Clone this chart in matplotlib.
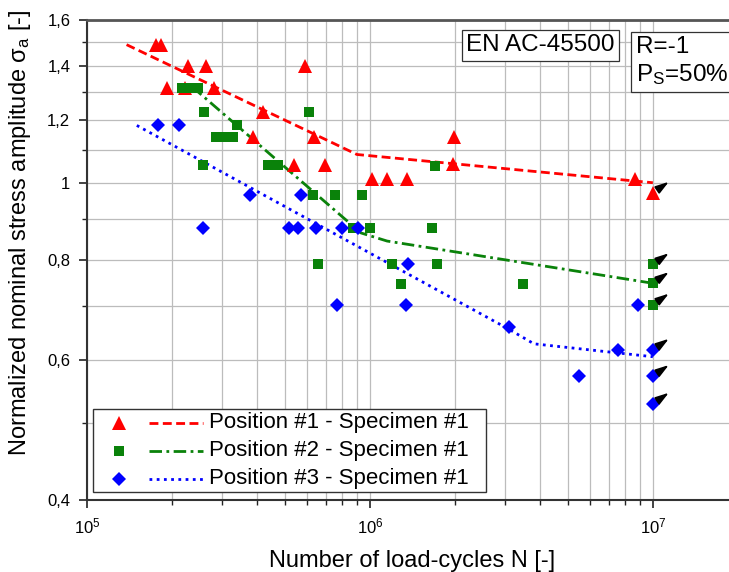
import matplotlib
matplotlib.use('Agg')
import matplotlib.pyplot as plt
from matplotlib.ticker import FixedLocator, FuncFormatter, NullFormatter, LogLocator
from matplotlib.lines import Line2D
from matplotlib.legend_handler import HandlerBase

plt.rcParams['font.family'] = 'Liberation Sans'
plt.rcParams['mathtext.fontset'] = 'custom'
plt.rcParams['mathtext.rm'] = 'Liberation Sans'
plt.rcParams['mathtext.it'] = 'Liberation Sans:italic'

# position #1 (failures)
pos1_N = [1.75e5, 1.82e5, 2.28e5, 2.63e5, 1.92e5, 2.22e5, 2.81e5, 4.19e5, 3.86e5, 5.89e5,
          6.34e5, 5.38e5, 6.93e5, 1.02e6, 1.15e6, 1.35e6, 1.98e6, 1.97e6, 8.63e6]
pos1_S = [1.49, 1.49, 1.40, 1.40, 1.315, 1.315, 1.315, 1.225, 1.14, 1.40,
          1.14, 1.053, 1.053, 1.01, 1.01, 1.01, 1.14, 1.055, 1.01]
pos1_runout = [0.971]

# position #2
pos2_N = [2.17e5, 2.35e5, 2.47e5, 2.59e5, 6.08e5, 3.39e5, 2.86e5, 3.07e5, 3.28e5, 2.57e5,
          4.37e5, 4.73e5, 6.3e5, 7.52e5, 9.38e5, 8.7e5, 1.0e6, 6.55e5, 1.2e6, 1.29e6,
          1.73e6, 3.48e6, 1.7e6, 1.66e6]
pos2_S = [1.315, 1.315, 1.315, 1.225, 1.225, 1.18, 1.14, 1.14, 1.14, 1.053,
          1.053, 1.053, 0.966, 0.966, 0.966, 0.878, 0.878, 0.79, 0.79, 0.747,
          0.79, 0.747, 1.05, 0.878]
pos2_runout = [0.79, 0.748, 0.703]

# position #3
pos3_N = [1.78e5, 2.11e5, 2.57e5, 3.77e5, 5.7e5, 5.18e5, 5.57e5, 6.44e5, 7.96e5, 9.07e5,
          1.36e6, 7.64e5, 1.34e6, 3.1e6, 5.48e6, 7.52e6, 8.85e6]
pos3_S = [1.182, 1.182, 0.878, 0.966, 0.966, 0.878, 0.878, 0.878, 0.878, 0.878,
          0.79, 0.703, 0.703, 0.659, 0.572, 0.617, 0.703]
pos3_runout = [0.617, 0.572, 0.528]

runout_N = 1e7

# S-N curves
fit1_N = [1.38e5, 9.0e5, 1e7]
fit1_S = [1.49, 1.085, 1.0]
fit2_N = [2.35e5, 9.3e5, 1.15e6, 1e7]
fit2_S = [1.32, 0.865, 0.845, 0.748]
fit3_N = [1.5e5, 3.1e6, 3.8e6, 1e7]
fit3_S = [1.18, 0.655, 0.628, 0.605]

labels = ['Position #1 - Specimen #1', 'Position #2 - Specimen #1', 'Position #3 - Specimen #1']
y_major = [0.4, 0.6, 0.8, 1.0, 1.2, 1.4, 1.6]
y_minor = [0.5, 0.7, 0.9, 1.1, 1.3, 1.5]

red = '#ff0000'
green = '#0a820a'
blue = '#0000ff'
line_dashes = {red: (3.2, 1.6), green: (4.5, 1.6, 1.0, 1.6), blue: (1.0, 1.6)}


class SplitHandler(HandlerBase):
    # marker on the left, line on the right (Origin style)
    def create_artists(self, legend, orig_handle, xdescent, ydescent, width, height, fontsize, trans):
        pts, line = orig_handle
        y = height / 2 - ydescent - 2
        m = Line2D([width * 0.215 - xdescent], [y], linestyle='none', marker=pts.get_marker(),
                   markersize=pts.get_markersize(), color=pts.get_color(), markeredgewidth=0)
        l = Line2D([width * 0.495 - xdescent, width - xdescent], [y, y], color=line.get_color(),
                   lw=line.get_linewidth(), dashes=line_dashes[line.get_color()])
        m.set_transform(trans)
        l.set_transform(trans)
        return [m, l]


fig = plt.figure(figsize=(7.29, 5.72), dpi=100)
ax = fig.add_axes([87 / 729, 72 / 572, 651 / 729, 480 / 572])
ax.set_xscale('log')
ax.set_yscale('log')

l1, = ax.plot(fit1_N, fit1_S, color=red, lw=2, dashes=line_dashes[red], zorder=3)
l2, = ax.plot(fit2_N, fit2_S, color=green, lw=2, dashes=line_dashes[green], zorder=3)
l3, = ax.plot(fit3_N, fit3_S, color=blue, lw=2, dashes=line_dashes[blue], zorder=3)

p1, = ax.plot(pos1_N, pos1_S, '^', color=red, ms=9.4, mew=0, zorder=4)
p2, = ax.plot(pos2_N, pos2_S, 's', color=green, ms=7.2, mew=0, zorder=4)
p3, = ax.plot(pos3_N, pos3_S, 'D', color=blue, ms=6.8, mew=0, zorder=4)

ax.plot([runout_N] * len(pos1_runout), pos1_runout, '^', color=red, ms=9.4, mew=0, zorder=4)
ax.plot([runout_N] * len(pos2_runout), pos2_runout, 's', color=green, ms=7.2, mew=0, zorder=4)
ax.plot([runout_N] * len(pos3_runout), pos3_runout, 'D', color=blue, ms=6.8, mew=0, zorder=4)

# run-out arrows
for s in pos1_runout + pos2_runout + pos3_runout:
    ax.annotate('', xy=(runout_N, s), xytext=(11.5, 8), textcoords='offset points',
                arrowprops=dict(arrowstyle='<|-,head_length=0.8,head_width=0.25', color='black',
                                lw=1.3, shrinkA=0, shrinkB=5), zorder=5)

ax.set_xlim(1e5, 2e7)
ax.set_ylim(0.4, 1.6)

ax.yaxis.set_major_locator(FixedLocator(y_major))
ax.yaxis.set_minor_locator(FixedLocator(y_minor))
ax.yaxis.set_major_formatter(FuncFormatter(lambda v, p: ('%g' % v).replace('.', ',')))
ax.yaxis.set_minor_formatter(NullFormatter())
ax.xaxis.set_major_locator(LogLocator(base=10))
ax.xaxis.set_minor_locator(LogLocator(base=10, subs=range(2, 10)))
ax.xaxis.set_minor_formatter(NullFormatter())

ax.grid(True, which='both', color='#bcbcbc', lw=0.9, zorder=0)
ax.set_axisbelow(True)

ax.tick_params(which='major', direction='out', length=6, width=1.2, labelsize=12, pad=6, color='#222222')
ax.tick_params(which='minor', direction='out', length=3.5, width=1.0, color='#222222')
ax.tick_params(top=False, right=False, which='both')

for side in ['left', 'bottom', 'top']:
    ax.spines[side].set_linewidth(1.5)
    ax.spines[side].set_color('#333333')
ax.spines['top'].set_color('#555555')
ax.spines['top'].set_linewidth(2)

ax.set_xlabel('Number of load-cycles N [-]', fontsize=17, labelpad=10)
ax.set_ylabel(r'Normalized nominal stress amplitude σ$_\mathregular{a}$ [-]', fontsize=17)
ax.yaxis.set_label_coords(-0.083, 0.556)

ax.text(0.697, 0.947, 'EN AC-45500', transform=ax.transAxes, fontsize=17.5, ha='center', va='center',
        bbox=dict(boxstyle='square,pad=0.18', fc='white', ec='#333333', lw=0.9), zorder=6)
ax.text(0.843, 0.967, 'R=-1\nP$_\\mathregular{S}$=50%', transform=ax.transAxes, fontsize=17.5,
        ha='left', va='top', linespacing=1.25,
        bbox=dict(boxstyle='square,pad=0.2', fc='white', ec='#333333', lw=0.9), zorder=6)

leg = ax.legend([(p1, l1), (p2, l2), (p3, l3)], labels, handler_map={tuple: SplitHandler()},
                loc='lower left', bbox_to_anchor=(0.0092, 0.0167, 0.6037, 0.17), mode='expand',
                borderaxespad=0, fontsize=16, frameon=True, fancybox=False, framealpha=1,
                edgecolor='#333333', borderpad=0.15, labelspacing=0.3, handlelength=4.8,
                handletextpad=0.25)
leg.get_frame().set_linewidth(1.0)
leg.set_zorder(6)

fig.savefig('out.png', dpi=100)
